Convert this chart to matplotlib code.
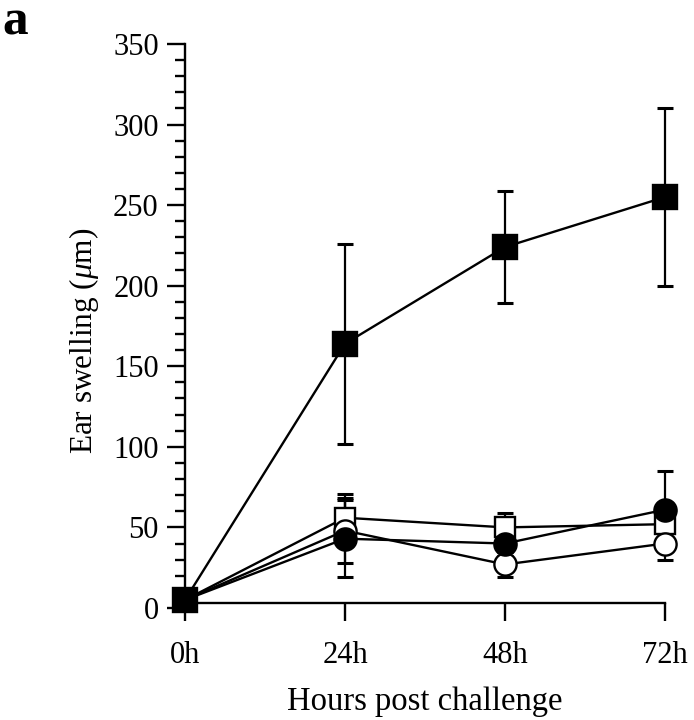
import numpy as np
import matplotlib
matplotlib.use("Agg")
import matplotlib.pyplot as plt
from matplotlib.ticker import MultipleLocator

hours = [0, 24, 48, 72]
hour_labels = ["0h", "24h", "48h", "72h"]

# filled square
fsq_mean = [5, 164, 224, 255]
fsq_err = [0, 62, 35, 55]
# open square
osq_mean = [5, 56, 50, 52]
osq_err = [0, 15, 9, 3]
# filled circle
fci_mean = [5, 43, 40, 61]
fci_err = [0, 24, 8, 24]
# open circle
oci_mean = [5, 48, 27, 40]
oci_err = [0, 20, 8, 10]

plt.rcParams["font.family"] = ["Liberation Serif", "DejaVu Serif"]
plt.rcParams["mathtext.fontset"] = "custom"
plt.rcParams["mathtext.it"] = "Liberation Serif:italic"

fig = plt.figure(figsize=(6.94, 7.2), dpi=100)
ax = fig.add_axes([0.2666, 0.1556, 0.6916, 0.7833])

series = [
    (osq_mean, osq_err, "s", "white", 15, 3),
    (oci_mean, oci_err, "o", "white", 16, 4),
    (fci_mean, fci_err, "o", "black", 16, 5),
    (fsq_mean, fsq_err, "s", "black", 17, 6),
]
for mean, err, mk, fc, ms, z in series:
    ax.errorbar(hours, mean, yerr=err, fmt="none", ecolor="black", elinewidth=1.6,
                capsize=6, capthick=2.2, zorder=1, clip_on=False)
for mean, err, mk, fc, ms, z in series:
    ax.plot(hours, mean, "-", color="black", lw=1.7, marker=mk, mfc=fc, mec="black",
            mew=1.7, ms=ms, zorder=z, clip_on=False)

ax.set_xlim(0, 72)
ax.set_ylim(0, 350)
ax.spines["top"].set_visible(False)
ax.spines["right"].set_visible(False)
ax.spines["bottom"].set_position(("data", 3))
ax.spines["left"].set_linewidth(1.7)
ax.spines["bottom"].set_linewidth(1.7)

ax.set_xticks(hours)
ax.set_xticklabels(hour_labels)
ax.yaxis.set_major_locator(MultipleLocator(50))
ax.yaxis.set_minor_locator(MultipleLocator(10))
ax.tick_params(axis="x", direction="out", length=13, width=1.7, labelsize=22, pad=14)
ax.tick_params(axis="y", which="major", direction="out", length=13, width=1.7, labelsize=22, pad=6)
ax.tick_params(axis="y", which="minor", direction="out", length=7, width=1.7)

ax.set_ylabel(r"Ear swelling ($\mu$m)", fontsize=22.5)
ax.yaxis.set_label_coords(-0.175, 0.473)
ax.set_xlabel("Hours post challenge", fontsize=23.5, labelpad=12)

fig.text(0.004, 0.952, "a", fontsize=37, fontweight="bold", va="baseline", ha="left")

fig.savefig("out.png", dpi=100)
